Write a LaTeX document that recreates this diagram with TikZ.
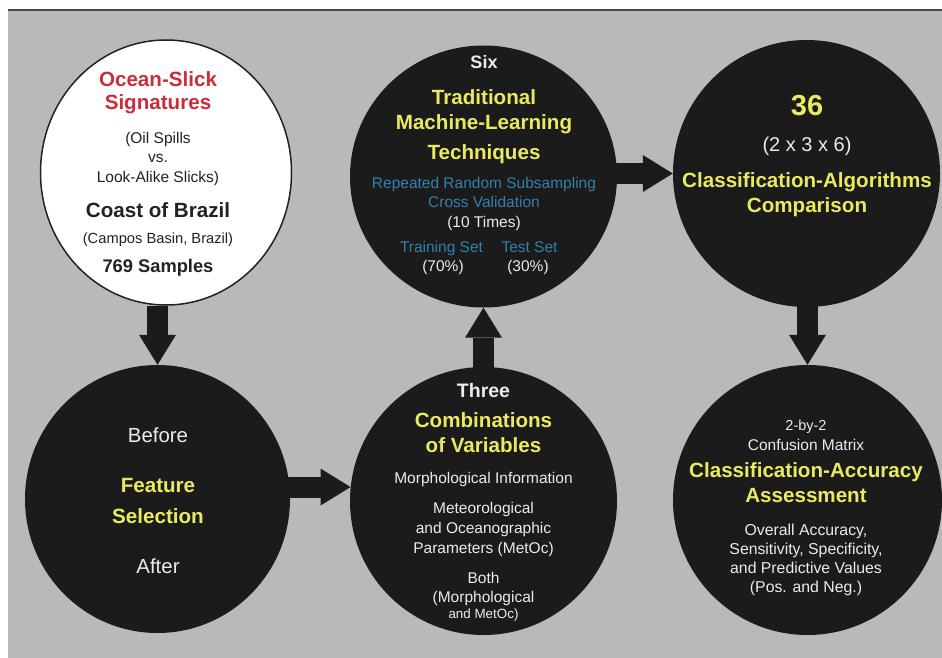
\documentclass[tikz,border=0pt]{standalone}
\usepackage{fontspec}
\setmainfont{Liberation Sans}
\usetikzlibrary{shapes.geometric,arrows.meta}

\definecolor{panel}{RGB}{185,185,185}
\definecolor{disc}{RGB}{27,27,27}
\definecolor{hiyel}{RGB}{234,234,96}
\definecolor{skyb}{RGB}{52,128,172}
\definecolor{slick}{RGB}{200,46,60}
\definecolor{ink}{RGB}{34,34,34}
\definecolor{paper}{RGB}{236,236,236}
\definecolor{rulec}{RGB}{75,75,75}

\tikzset{
  stage/.style={ellipse, fill=disc, inner sep=0pt},
  txt/.style={anchor=base, inner sep=0pt, align=center},
  hd/.style={txt, font=\fontsize{20.6}{24}\selectfont\bfseries},
  smtxt/.style={txt, font=\fontsize{15.5}{18}\selectfont},
  blockarrow/.style={draw=disc, line width=21pt,
    -{Triangle[length=30pt, width=37pt, line width=0pt]}},
}

\begin{document}
\begin{tikzpicture}[x=1pt, y=-1pt]
\useasboundingbox (0,0) rectangle (942,658);
\fill[white] (0,0) rectangle (942,658);
\fill[panel] (8,10) rectangle (942,658);
\draw[rulec, line width=2pt] (8,10) -- (942,10);

% the six stages
\node[ellipse, draw=ink, line width=1.5pt, fill=white, inner sep=0pt,
      minimum width=251pt, minimum height=265pt] (c1) at (166,172.5) {};
\node[stage, minimum width=267pt, minimum height=262pt] (c2) at (483.5,176.5) {};
\node[stage, minimum width=267pt, minimum height=267pt] (c3) at (806.5,173.5) {};
\node[stage, minimum width=265pt, minimum height=268pt] (c4) at (157.5,499) {};
\node[stage, minimum width=267pt, minimum height=268pt] (c5) at (483.5,501) {};
\node[stage, minimum width=269pt, minimum height=270pt] (c6) at (807.5,500) {};

% flow between the stages
\draw[blockarrow] (c1.south -| c4.north) -- (c4.north);
\draw[blockarrow] (c4.center |- c5.174) -- (c5.174);
\draw[blockarrow] (c5.center) -- (c2.south);
\draw[blockarrow] (c2.center |- c3.west) -- (c3.west);
\draw[blockarrow] (c6.north |- c3.center) -- (c6.north);

% data set
\node[hd, slick] (c1a) at (158,87) {Ocean-Slick};
\node[hd, slick] (c1b) at (158,110) {Signatures};
\node[smtxt, ink] (c1c) at (158,143) {(Oil Spills};
\node[smtxt, ink] (c1d) at (158,162) {vs.};
\node[smtxt, ink] (c1e) at (158,182) {Look-Alike Slicks)};
\node[hd, ink] (c1f) at (158,217) {Coast of Brazil};
\node[txt, ink, font=\fontsize{14.7}{17}\selectfont] (c1g) at (158,243) {(Campos Basin, Brazil)};
\node[txt, ink, font=\fontsize{18.3}{22}\selectfont\bfseries] (c1h) at (158,272) {769 Samples};

% techniques
\node[txt, paper, font=\fontsize{18}{21}\selectfont\bfseries] (c2a) at (484,69) {Six};
\node[hd, hiyel] (c2b) at (484,105) {Traditional};
\node[hd, hiyel] (c2c) at (484,130) {Machine-Learning};
\node[hd, hiyel] (c2d) at (484,159) {Techniques};
\node[smtxt, skyb] (c2e) at (484,188) {Repeated Random Subsampling};
\node[smtxt, skyb] (c2f) at (484,207) {Cross Validation};
\node[smtxt, paper] (c2g) at (484,227) {(10 Times)};
\node[smtxt, skyb] (c2h) at (441.5,252) {Training Set};
\node[smtxt, skyb] (c2i) at (529.5,252) {Test Set};
\node[smtxt, paper] (c2j) at (443,271) {(70\%)};
\node[smtxt, paper] (c2k) at (528,271) {(30\%)};

% comparison
\node[txt, hiyel, font=\fontsize{29}{33}\selectfont\bfseries] (c3a) at (807,116) {36};
\node[txt, paper, font=\fontsize{20}{24}\selectfont] (c3b) at (807,152) {(2 x 3 x 6)};
\node[hd, hiyel] (c3c) at (807,187) {Classification-Algorithms};
\node[hd, hiyel] (c3d) at (807,212) {Comparison};

% feature selection
\node[txt, paper, font=\fontsize{20.4}{24}\selectfont] (c4a) at (158,442) {Before};
\node[hd, hiyel] (c4b) at (158,492) {Feature};
\node[hd, hiyel] (c4c) at (158,523) {Selection};
\node[txt, paper, font=\fontsize{20.4}{24}\selectfont] (c4d) at (158,573) {After};

% variable sets
\node[txt, paper, font=\fontsize{19.5}{23}\selectfont\bfseries] (c5a) at (483.5,397) {Three};
\node[hd, hiyel] (c5b) at (483.5,427) {Combinations};
\node[hd, hiyel] (c5c) at (483.5,452) {of Variables};
\node[smtxt, paper] (c5d) at (483.5,483) {Morphological Information};
\node[smtxt, paper] (c5e) at (483.5,513) {Meteorological};
\node[smtxt, paper] (c5f) at (483.5,533) {and Oceanographic};
\node[smtxt, paper] (c5g) at (483.5,553) {Parameters (MetOc)};
\node[smtxt, paper] (c5h) at (483.5,583) {Both};
\node[smtxt, paper] (c5i) at (483.5,602) {(Morphological};
\node[txt, paper, font=\fontsize{13.4}{16}\selectfont] (c5j) at (483.5,618) {and MetOc)};

% accuracy assessment
\node[txt, paper, font=\fontsize{14.5}{17}\selectfont] (c6a) at (806,430) {2-by-2};
\node[smtxt, paper] (c6b) at (806,450) {Confusion Matrix};
\node[hd, hiyel] (c6c) at (806,477) {Classification-Accuracy};
\node[hd, hiyel] (c6d) at (806,502) {Assessment};
\node[txt, paper, font=\fontsize{15.8}{19}\selectfont] (c6e) at (806,535) {Overall Accuracy,};
\node[txt, paper, font=\fontsize{15.8}{19}\selectfont] (c6f) at (806,554) {Sensitivity, Specificity,};
\node[txt, paper, font=\fontsize{15.8}{19}\selectfont] (c6g) at (806,573) {and Predictive Values};
\node[txt, paper, font=\fontsize{15.8}{19}\selectfont] (c6h) at (806,592) {(Pos. and Neg.)};
\end{tikzpicture}
\end{document}
